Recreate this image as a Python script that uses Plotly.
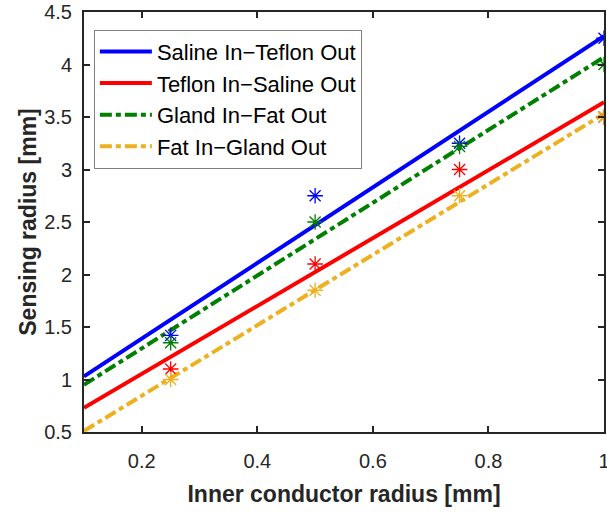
import plotly.graph_objects as go

# Measured sensing radius at each inner conductor radius
inner_radius = [0.25, 0.5, 0.75, 1.0]
saline_teflon = [1.42, 2.75, 3.25, 4.25]
teflon_saline = [1.10, 2.10, 3.00, 3.50]
gland_fat = [1.35, 2.50, 3.22, 4.00]
fat_gland = [1.00, 1.85, 2.75, 3.50]

# Linear fit lines, evaluated at the ends of the x range
fit_x = [0.1, 1.0]
fit_saline_teflon = [1.03, 4.27]
fit_teflon_saline = [0.73, 3.64]
fit_gland_fat = [0.95, 4.07]
fit_fat_gland = [0.51, 3.53]

x_ticks = [0.2, 0.4, 0.6, 0.8, 1.0]
x_tick_text = ["0.2", "0.4", "0.6", "0.8", "1"]
y_ticks = [0.5, 1, 1.5, 2, 2.5, 3, 3.5, 4, 4.5]
y_tick_text = ["0.5", "1", "1.5", "2", "2.5", "3", "3.5", "4", "4.5"]

names = ["Saline In\u2212Teflon Out", "Teflon In\u2212Saline Out",
         "Gland In\u2212Fat Out", "Fat In\u2212Gland Out"]
colors = ["#0000FF", "#FF0000", "#008000", "#EDB120"]
dashes = ["solid", "solid", "12px,4px,5px,4px", "12px,4px,5px,4px"]
points = [saline_teflon, teflon_saline, gland_fat, fat_gland]
fits = [fit_saline_teflon, fit_teflon_saline, fit_gland_fat, fit_fat_gland]

FONT = "Liberation Sans, Arial"

fig = go.Figure()

for i in range(4):
    fig.add_trace(go.Scatter(
        x=fit_x, y=fits[i], mode="lines", name=names[i],
        line=dict(color=colors[i], width=4, dash=dashes[i]),
        legendgroup=str(i),
    ))

for i in range(4):
    fig.add_trace(go.Scatter(
        x=inner_radius, y=points[i], mode="markers", showlegend=False,
        marker=dict(symbol="asterisk-open", size=13, color=colors[i],
                    line=dict(color=colors[i], width=1.3)),
    ))

axis_common = dict(
    showgrid=False, zeroline=False, showline=True, linecolor="#262626",
    linewidth=2, mirror="ticks", ticks="inside", ticklen=6, tickwidth=1.5,
    tickcolor="#262626", ticklabeloverflow="allow",
    tickfont=dict(family=FONT, size=20, color="#262626"),
)

fig.update_layout(
    width=607, height=512,
    margin=dict(l=84, r=1, t=7, b=80),
    plot_bgcolor="white", paper_bgcolor="white",
    xaxis=dict(range=[0.1, 1.0], tickvals=x_ticks, ticktext=x_tick_text,
               ticklabelstandoff=10, automargin=False,
               title=dict(text="<b>Inner conductor radius [mm]</b>",
                          font=dict(family=FONT, size=23, color="#262626")),
               **axis_common),
    yaxis=dict(range=[0.5, 4.5], tickvals=y_ticks, ticktext=y_tick_text,
               ticklabelstandoff=6, automargin=True,
               title=dict(text="<b>Sensing radius [mm]</b>", standoff=1,
                          font=dict(family=FONT, size=23, color="#262626")),
               **axis_common),
    legend=dict(x=0.019, y=0.958, xanchor="left", yanchor="top",
                bgcolor="white", bordercolor="#7f7f7f", borderwidth=1,
                font=dict(family=FONT, size=22, color="black"),
                tracegroupgap=0, itemwidth=52),
)

fig.write_html("out.html")
